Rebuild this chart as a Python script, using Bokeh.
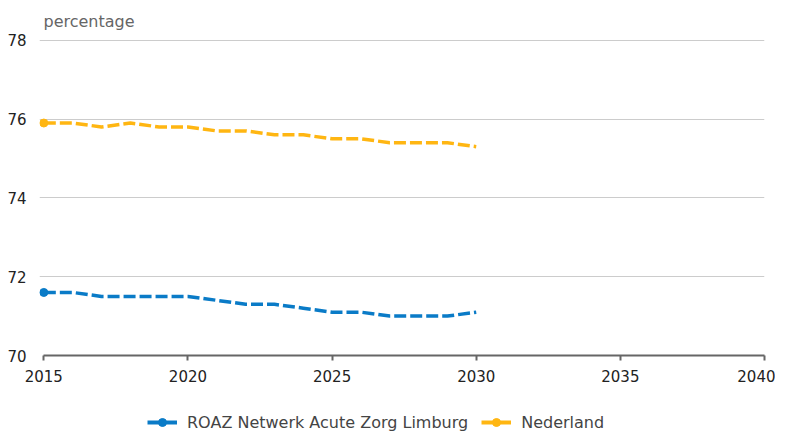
from bokeh.plotting import figure
from bokeh.layouts import column
from bokeh.models import Range1d, FixedTicker, Legend, LegendItem, ColumnDataSource
from bokeh.embed import file_html
from bokeh.resources import INLINE

years = list(range(2015, 2031))
roaz = [71.6, 71.6, 71.5, 71.5, 71.5, 71.5, 71.4, 71.3, 71.3, 71.2, 71.1, 71.1, 71.0, 71.0, 71.0, 71.1]
nederland = [75.9, 75.9, 75.8, 75.9, 75.8, 75.8, 75.7, 75.7, 75.6, 75.6, 75.5, 75.5, 75.4, 75.4, 75.4, 75.3]
x_ticks = [2015, 2020, 2025, 2030, 2035, 2040]
y_ticks = [70, 72, 74, 76, 78]
series_names = ["ROAZ Netwerk Acute Zorg Limburg", "Nederland"]
colors = ["#0a7bc7", "#ffb612"]

FONT = "DejaVu Sans"

p = figure(frame_width=725, frame_height=316, output_backend="svg", toolbar_location=None,
           x_range=Range1d(2014.85, 2040), y_range=Range1d(70, 78.02),
           title="percentage", min_border_left=31, min_border_right=11,
           min_border_top=32, min_border_bottom=47)
p.margin = (0, 0, 0, 4)
p.title.text_font = FONT
p.title.text_font_size = "16px"
p.title.text_font_style = "normal"
p.title.text_color = "#666666"
p.title.align = "left"
p.title.offset = 4
p.title.standoff = 18
p.outline_line_color = None
p.background_fill_color = "white"

p.xaxis.ticker = FixedTicker(ticks=x_ticks)
p.yaxis.ticker = FixedTicker(ticks=y_ticks)
p.xaxis.bounds = (2015, 2040)
p.xaxis.minor_tick_line_color = None
p.yaxis.minor_tick_line_color = None
p.xaxis.axis_line_color = "#666666"
p.xaxis.axis_line_width = 2
p.xaxis.major_tick_line_color = "#666666"
p.xaxis.major_tick_line_width = 2
p.xaxis.major_tick_in = 0
p.xaxis.major_tick_out = 5
p.xaxis.major_label_standoff = 9
p.xaxis.major_label_text_font = FONT
p.xaxis.major_label_text_font_size = "15px"
p.xaxis.major_label_text_color = "#222222"
p.yaxis.axis_line_color = None
p.yaxis.major_tick_line_color = None
p.yaxis.major_label_text_font = FONT
p.yaxis.major_label_text_font_size = "15px"
p.yaxis.major_label_text_color = "#222222"
p.yaxis.major_label_text_baseline = "alphabetic"
p.yaxis.major_label_standoff = 7
p.xgrid.grid_line_color = None
p.ygrid.grid_line_color = "#cccccc"

for vals, name, c in zip([roaz, nederland], series_names, colors):
    p.line(years, vals, line_color=c, line_width=3.5, line_dash="12 4")
    p.scatter([years[0]], [vals[0]], size=8, color=c)

# legend strip below the chart
lg = figure(width=771, height=30, output_backend="svg", toolbar_location=None,
            x_range=Range1d(0, 1), y_range=Range1d(0, 1),
            x_axis_type=None, y_axis_type=None, min_border=0)
lg.outline_line_color = None
lg.grid.grid_line_color = None
items = []
for name, c in zip(series_names, colors):
    empty = ColumnDataSource(data=dict(x=[float("nan")], y=[float("nan")]))
    lr = lg.line("x", "y", source=empty, line_color=c, line_width=4)
    cr = lg.scatter("x", "y", source=empty, size=8, color=c)
    items.append(LegendItem(label=name, renderers=[lr, cr]))
legend = Legend(items=items, orientation="horizontal", location=(112, 0),
                label_text_font=FONT, label_text_font_size="16px",
                label_text_color="#444444", border_line_color=None,
                background_fill_alpha=0, label_standoff=10,
                glyph_width=30, spacing=13, margin=0, padding=4)
lg.add_layout(legend, "center")

open("out.html", "w").write(file_html(column(p, lg, spacing=0), INLINE))
